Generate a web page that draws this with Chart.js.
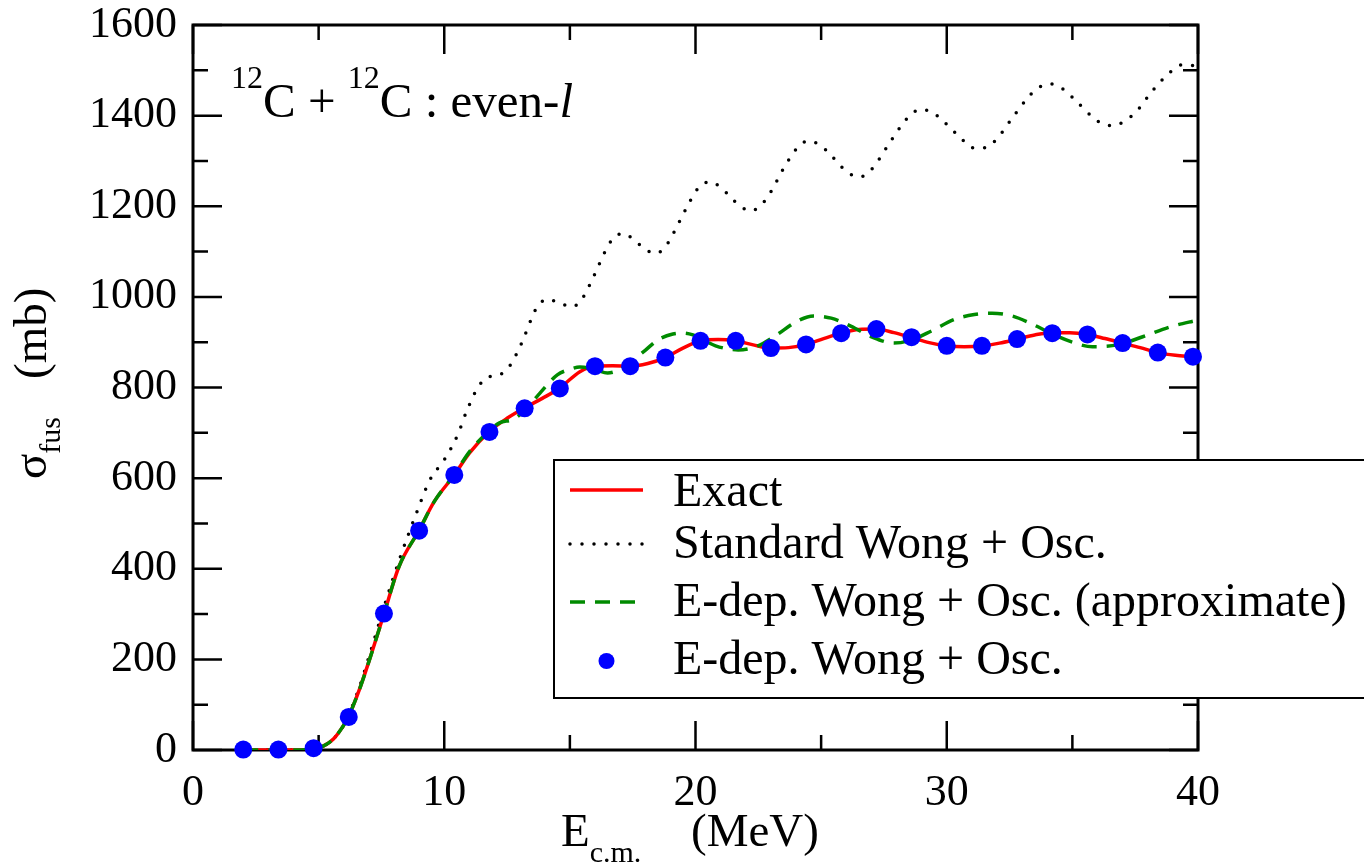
<!DOCTYPE html>
<html lang="en">
<head>
    <meta charset="UTF-8">
    <title>12C + 12C fusion cross section</title>
    <style>
        * {
            margin: 0;
            padding: 0;
            box-sizing: border-box;
        }

        body {
            background-color: #fff;
        }

        .chart-box {
            position: relative;
            width: 1364px;
            height: 868px;
        }
    </style>
</head>
<body>

    <div class="chart-box">
        <canvas id="fusChart"></canvas>
    </div>

    <script src="https://cdn.jsdelivr.net/npm/chart.js"></script>
    <script>
        // Exact calculation (red solid)
        const exactE = [2, 3, 4, 4.8, 5.2, 5.6, 6.0, 6.2, 6.6, 7.0, 7.6, 8.2, 9.0, 9.6, 10.4, 11.0, 11.8, 12.5, 13.2, 13.9,
            14.6, 15.4, 16.0, 16.7, 17.4, 18.1, 18.8, 19.5, 20.2, 20.9, 21.6, 22.3, 23.0, 23.7, 24.4, 25.1, 25.8, 26.5, 27.2, 27.9,
            28.6, 29.3, 30.0, 30.7, 31.4, 32.1, 32.8, 33.5, 34.2, 34.9, 35.6, 36.3, 37.0, 37.7, 38.4, 39.1, 39.8, 40];
        const exactSigma = [0, 0, 0, 3, 9, 25, 55, 75, 130, 195, 300, 405, 485, 548, 607, 655, 703, 732, 755, 776,
            799, 835, 847, 848, 847, 853, 866, 887, 903, 906, 903, 894, 887, 888, 895, 908, 920, 928, 929, 921,
            910, 899, 892, 890, 892, 898, 907, 916, 921, 921, 917, 908, 898, 888, 877, 871, 868, 867];

        // Standard Wong + Osc. (black dotted)
        const stdE = [2, 4, 4.8, 5.2, 5.6, 6.0, 6.6, 7.0, 7.6, 8.0, 8.3, 8.84, 9.43, 10.03, 10.53, 10.9, 11.36, 11.7, 12.2, 12.6,
            13.08, 13.48, 13.7, 14.12, 14.6, 15.1, 15.5, 15.97, 16.4, 16.68, 17.1, 17.56, 17.95, 18.42, 18.83, 19.34, 19.82, 20.11, 20.55, 21.0,
            21.38, 21.76, 22.2, 22.65, 22.97, 23.47, 24.04, 24.48, 24.96, 25.35, 26.07, 26.54, 27.0, 27.6, 28.18, 28.51, 28.96, 29.46, 29.86, 30.6,
            31.03, 31.5, 31.95, 32.6, 33.23, 33.6, 34.1, 34.59, 34.99, 35.74, 36.15, 36.64, 37.13, 37.55, 38.19, 38.92, 39.37, 39.86, 40];
        const stdSigma = [0, 0, 3, 9, 25, 55, 135, 205, 315, 385, 434, 515, 596, 643, 695, 749, 802, 822, 828, 847,
            898, 953, 978, 995, 986, 978, 997, 1048, 1100, 1126, 1140, 1126, 1107, 1096, 1113, 1164, 1215, 1240, 1254, 1242,
            1221, 1201, 1190, 1205, 1229, 1280, 1328, 1344, 1335, 1315, 1274, 1265, 1281, 1329, 1377, 1399, 1414, 1406, 1388, 1348,
            1329, 1329, 1346, 1394, 1440, 1460, 1470, 1460, 1441, 1400, 1383, 1378, 1390, 1409, 1455, 1497, 1512, 1510, 1508];

        // E-dep. Wong + Osc. (approximate) (green dashed)
        const approxE = [2, 3, 4, 4.8, 5.2, 5.6, 6.0, 6.2, 6.6, 7.0, 7.6, 8.2, 9.0, 9.6, 10.4, 11.0, 11.8, 12.2, 12.75, 13.3,
            13.8, 14.5, 15.0, 15.4, 16.0, 16.5, 17.0, 17.5, 18.0, 18.5, 19.1, 19.5, 19.9, 20.8, 21.7, 22.4, 23.2, 24.0, 24.7, 25.4,
            26.2, 27.0, 27.9, 28.6, 29.4, 30.3, 31.1, 31.8, 32.6, 33.4, 34.2, 35.0, 35.8, 36.8, 37.8, 38.9, 40];
        const approxSigma = [0, 0, 0, 3, 9, 25, 55, 75, 130, 195, 300, 405, 485, 548, 608, 658, 705, 722, 730, 755,
            787, 828, 840, 845, 840, 832, 840, 860, 882, 905, 918, 920, 916, 892, 883, 890, 915, 945, 958, 953,
            935, 912, 898, 905, 925, 950, 961, 964, 958, 940, 918, 900, 890, 894, 912, 934, 949];

        // E-dep. Wong + Osc. (blue circles)
        const pointE = [2.0, 3.4, 4.8, 6.2, 7.6, 9.0, 10.4, 11.8, 13.2, 14.6, 16.0, 17.4, 18.8, 20.2,
            21.6, 23.0, 24.4, 25.8, 27.2, 28.6, 30.0, 31.4, 32.8, 34.2, 35.6, 37.0, 38.4, 39.8];
        const pointSigma = [1, 1, 4, 73, 301, 484, 607, 702, 754, 798, 847, 847, 866, 903,
            903, 887, 895, 920, 929, 911, 892, 892, 907, 920, 917, 898, 877, 868];

        const xTickValues = [0, 10, 20, 30, 40];
        const yTickValues = [0, 200, 400, 600, 800, 1000, 1200, 1400, 1600];

        const SERIF = "'Liberation Serif', 'Times New Roman', serif";

        function toXY(xs, ys) {
            return xs.map((x, i) => ({ x: x, y: ys[i] }));
        }

        // draws a run of text pieces (for sub/superscripts), returns end x
        function drawPieces(ctx, pieces, x, y) {
            pieces.forEach(p => {
                ctx.font = (p.italic ? 'italic ' : '') + p.size + 'px ' + SERIF;
                ctx.fillText(p.text, x, y + (p.dy || 0));
                x += ctx.measureText(p.text).width;
            });
            return x;
        }

        // frame with inward ticks on all four sides, titles and legend
        const framePlugin = {
            id: 'frame',
            beforeDatasetsDraw(chart) {
                const { ctx, chartArea: a, scales: { x, y } } = chart;
                ctx.save();
                ctx.strokeStyle = '#000';
                ctx.lineWidth = 2.5;
                ctx.beginPath();
                for (let v = 0; v <= 40; v += 5) {
                    const px = x.getPixelForValue(v);
                    const len = xTickValues.includes(v) ? 29 : 15;
                    ctx.moveTo(px, a.bottom); ctx.lineTo(px, a.bottom - len);
                    ctx.moveTo(px, a.top); ctx.lineTo(px, a.top + len);
                }
                for (let v = 0; v <= 1600; v += 100) {
                    const py = y.getPixelForValue(v);
                    const len = yTickValues.includes(v) ? 29 : 15;
                    ctx.moveTo(a.left, py); ctx.lineTo(a.left + len, py);
                    ctx.moveTo(a.right, py); ctx.lineTo(a.right - len, py);
                }
                ctx.stroke();
                ctx.lineWidth = 3;
                ctx.strokeRect(a.left, a.top, a.right - a.left, a.bottom - a.top);
                ctx.restore();
            },
            afterDraw(chart) {
                const { ctx } = chart;
                ctx.save();
                ctx.fillStyle = '#000';
                ctx.textBaseline = 'alphabetic';
                ctx.textAlign = 'left';

                // reaction label
                drawPieces(ctx, [
                    { text: '12', size: 32, dy: -29 },
                    { text: 'C + ', size: 49 },
                    { text: '12', size: 32, dy: -29 },
                    { text: 'C : even-', size: 49 },
                    { text: 'l', size: 49, italic: true }
                ], 231, 117);

                // x title
                drawPieces(ctx, [
                    { text: 'E', size: 47 },
                    { text: 'c.m.', size: 30, dy: 16 }
                ], 561, 846);
                drawPieces(ctx, [{ text: '(MeV)', size: 47 }], 691, 846);

                // y title, rotated
                ctx.save();
                ctx.translate(46, 479);
                ctx.rotate(-Math.PI / 2);
                drawPieces(ctx, [
                    { text: 'σ', size: 47 },
                    { text: 'fus', size: 30, dy: 14 }
                ], 0, 0);
                drawPieces(ctx, [{ text: '(mb)', size: 47 }], 100, 0);
                ctx.restore();

                // legend box
                const lx = 554, ly = 460, lr = 1368, lb = 698;
                ctx.fillStyle = '#fff';
                ctx.fillRect(lx, ly, lr - lx, lb - ly);
                ctx.strokeStyle = '#000';
                ctx.lineWidth = 2;
                ctx.strokeRect(lx, ly, lr - lx, lb - ly);

                const sx0 = 570, sx1 = 643, tx = 673;
                const ds = chart.data.datasets;
                const rows = [
                    { ds: ds[2], sy: 490, ty: 506 },
                    { ds: ds[3], sy: 544, ty: 558 },
                    { ds: ds[1], sy: 602, ty: 616 },
                    { ds: ds[0], sy: 661, ty: 674 }
                ];
                rows.forEach(r => {
                    if (r.ds.showLine === false) {
                        ctx.fillStyle = r.ds.pointBackgroundColor;
                        ctx.beginPath();
                        ctx.arc((sx0 + sx1) / 2, r.sy, 8, 0, Math.PI * 2);
                        ctx.fill();
                    } else {
                        ctx.strokeStyle = r.ds.borderColor;
                        ctx.lineWidth = r.ds.borderWidth;
                        ctx.lineCap = r.ds.borderCapStyle || 'butt';
                        ctx.setLineDash(r.ds.borderDash || []);
                        ctx.beginPath();
                        ctx.moveTo(sx0, r.sy);
                        ctx.lineTo(sx1, r.sy);
                        ctx.stroke();
                        ctx.setLineDash([]);
                    }
                    ctx.fillStyle = '#000';
                    drawPieces(ctx, [{ text: r.ds.label, size: 48 }], tx, r.ty);
                });
                ctx.restore();
            }
        };

        const ctx = document.getElementById('fusChart').getContext('2d');
        new Chart(ctx, {
            type: 'scatter',
            data: {
                datasets: [{
                    label: 'E-dep. Wong + Osc.',
                    data: toXY(pointE, pointSigma),
                    showLine: false,
                    pointRadius: 9,
                    pointBackgroundColor: '#0000ff',
                    pointBorderWidth: 0,
                    clip: false,
                    order: 0
                }, {
                    label: 'E-dep. Wong + Osc. (approximate)',
                    data: toXY(approxE, approxSigma),
                    showLine: true,
                    borderColor: '#008b00',
                    borderWidth: 3.5,
                    borderDash: [15, 10],
                    pointRadius: 0,
                    cubicInterpolationMode: 'monotone',
                    order: 1
                }, {
                    label: 'Exact',
                    data: toXY(exactE, exactSigma),
                    showLine: true,
                    borderColor: '#ff0000',
                    borderWidth: 3.5,
                    pointRadius: 0,
                    cubicInterpolationMode: 'monotone',
                    order: 2
                }, {
                    label: 'Standard Wong + Osc.',
                    data: toXY(stdE, stdSigma),
                    showLine: true,
                    borderColor: '#000000',
                    borderWidth: 3.5,
                    borderDash: [0, 12],
                    borderCapStyle: 'round',
                    pointRadius: 0,
                    cubicInterpolationMode: 'monotone',
                    order: 3
                }]
            },
            options: {
                responsive: true,
                maintainAspectRatio: false,
                animation: false,
                events: [],
                layout: {
                    padding: { left: 0, top: 25, right: 166, bottom: 0 }
                },
                plugins: {
                    legend: { display: false },
                    tooltip: { enabled: false }
                },
                scales: {
                    x: {
                        type: 'linear',
                        min: 0,
                        max: 40,
                        afterBuildTicks: s => { s.ticks = xTickValues.map(v => ({ value: v })); },
                        afterFit: s => {
                            s.height = 118;
                            s.paddingLeft = 0;
                            s.paddingRight = 0;
                        },
                        grid: { display: false, drawTicks: false, tickLength: 0 },
                        border: { display: false },
                        ticks: {
                            color: '#000',
                            padding: 21,
                            maxRotation: 0,
                            callback: v => String(v),
                            font: { family: SERIF, size: 44, lineHeight: 1 }
                        }
                    },
                    y: {
                        type: 'linear',
                        min: 0,
                        max: 1600,
                        afterBuildTicks: s => { s.ticks = yTickValues.map(v => ({ value: v })); },
                        afterFit: s => {
                            s.width = 193;
                            s.paddingTop = 0;
                            s.paddingBottom = 0;
                        },
                        grid: { display: false, drawTicks: false, tickLength: 0 },
                        border: { display: false },
                        ticks: {
                            color: '#000',
                            padding: 16,
                            callback: v => String(v),
                            font: { family: SERIF, size: 44, lineHeight: 1 }
                        }
                    }
                }
            },
            plugins: [framePlugin]
        });
    </script>

</body>
</html>
